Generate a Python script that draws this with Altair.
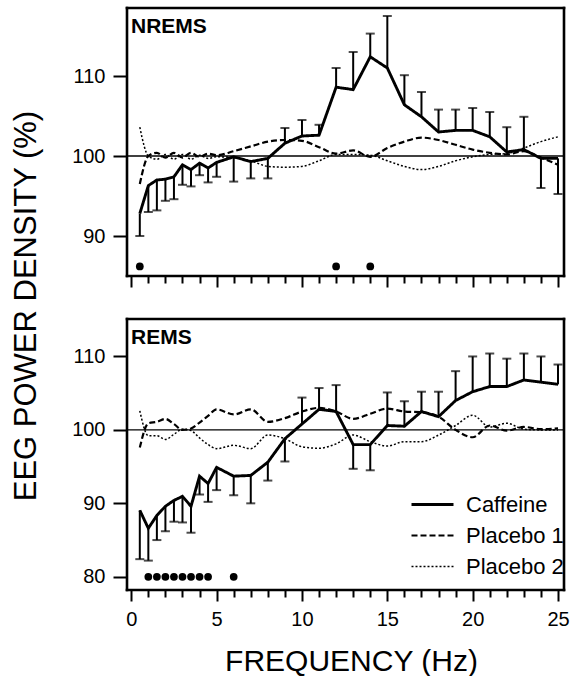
import altair as alt
import pandas as pd

FONT = "Liberation Sans"

# Frequency bins (Hz): 0.5-Hz bins up to 5 Hz, 1-Hz bins above
freq = [0.5, 1.0, 1.5, 2.0, 2.5, 3.0, 3.5, 4.0, 4.5, 5.0,
        6, 7, 8, 9, 10, 11, 12, 13, 14, 15, 16, 17, 18, 19, 20, 21, 22, 23, 24, 25]

# ---- NREMS ----
nrem_caf = [92.8, 96.3, 97.0, 97.1, 97.4, 98.9, 98.3, 99.1, 98.5, 99.2,
            99.9, 99.3, 99.7, 101.6, 102.5, 102.6, 108.6, 108.3, 112.4, 111.0,
            106.4, 104.9, 103.0, 103.2, 103.2, 102.4, 100.5, 100.8, 99.7, 99.7]
nrem_err = [90.0, 93.0, 93.2, 94.4, 94.6, 96.4, 96.2, 97.6, 96.7, 97.4,
            96.8, 97.2, 97.2, 103.5, 104.5, 103.9, 111.0, 113.0, 115.3, 117.5,
            110.1, 108.0, 105.8, 105.8, 106.0, 105.5, 103.6, 104.9, 96.0, 95.25]
nrem_p1 = [96.5, 100.0, 100.4, 99.8, 100.4, 99.8, 100.4, 99.9, 100.3, 100.1,
           100.6, 101.2, 101.8, 102.0, 101.9, 101.1, 100.3, 100.7, 99.9, 101.0,
           101.8, 102.3, 102.0, 101.4, 100.8, 100.4, 100.2, 100.6, 99.8, 98.9]
nrem_p2 = [103.6, 100.0, 99.6, 100.2, 99.6, 100.2, 99.6, 100.1, 99.7, 99.9,
           99.8, 99.4, 98.7, 98.6, 98.7, 99.4, 100.2, 100.2, 100.1, 99.4,
           98.7, 98.3, 98.7, 99.4, 99.9, 100.2, 100.3, 101.0, 101.8, 102.4]
nrem_sig_freq = [0.5, 12, 14]
nrem_sig_level = [86.2, 86.2, 86.2]

# ---- REMS ----
rem_caf = [89.05, 86.6, 88.35, 89.6, 90.4, 90.95, 89.6, 93.7, 92.7, 94.9,
           93.7, 93.8, 95.6, 98.8, 100.8, 102.8, 102.5, 98.0, 98.0, 100.6,
           100.5, 102.5, 101.8, 104.0, 105.2, 105.9, 105.9, 106.8, 106.5, 106.2]
rem_err = [82.4, 82.2, 85.0, 86.2, 87.5, 87.4, 86.0, 91.2, 90.2, 91.8,
           91.1, 90.0, 93.1, 95.7, 104.4, 105.7, 106.1, 94.7, 94.5, 105.1,
           103.9, 105.2, 105.2, 108.0, 110.0, 110.4, 109.7, 110.4, 110.0, 108.9]
rem_p1 = [97.6, 100.9, 101.1, 101.5, 100.8, 100.0, 100.2, 101.0, 101.9, 102.8,
          102.1, 102.8, 101.1, 101.6, 102.5, 103.0, 102.5, 101.5, 102.2, 102.9,
          102.5, 102.4, 101.8, 100.0, 99.0, 100.6, 99.9, 100.4, 100.1, 100.2]
rem_p2 = [102.6, 99.2, 99.2, 98.7, 99.4, 100.1, 99.9, 98.9, 98.0, 97.45,
          97.9, 97.45, 99.3, 98.8, 97.7, 97.5, 98.1, 99.3, 98.4, 97.8,
          98.4, 98.4, 99.3, 100.6, 102.0, 100.4, 100.9, 100.1, 100.0, 100.0]
rem_sig_freq = [1.0, 1.5, 2.0, 2.5, 3.0, 3.5, 4.0, 4.5, 6]
rem_sig_level = [80, 80, 80, 80, 80, 80, 80, 80, 80]

series_names = ["Caffeine", "Placebo 1", "Placebo 2"]
x_ticks = list(range(0, 26))

XDOM = [-0.25, 25.35]
W = 437


def panel(caf, err, p1, p2, sig_f, sig_v, ydom, yticks, label, height,
          bottom, ext):
    df_c = pd.DataFrame({"freq": freq, "val": caf, "err": err,
                         "series": ["Caffeine"] * len(freq)})
    df_p = pd.DataFrame({
        "freq": freq + freq,
        "val": p1 + p2,
        "series": ["Placebo 1"] * len(freq) + ["Placebo 2"] * len(freq),
    })
    df_s = pd.DataFrame({"freq": sig_f, "val": sig_v})
    df_l = pd.DataFrame({"label": [label]})

    x_axis = alt.Axis(
        values=x_ticks, title="FREQUENCY (Hz)" if bottom else None,
        labels=bottom,
        labelExpr="datum.value % 5 === 0 ? datum.label : ''",
        tickSize={"condition": {"test": "datum.value % 5 === 0", "value": 11}, "value": 7},
        tickWidth=2, tickColor="black", domain=False, grid=False,
        labelFontSize=20, labelFont=FONT, labelColor="black", labelPadding=8,
        titleFontSize=30, titleFont=FONT, titleColor="black",
        titleFontWeight="normal", titlePadding=17, titleX=224,
        titleAlign="center",
    )
    y_axis = alt.Axis(
        values=yticks, title=None, tickSize=14, tickWidth=2, tickColor="black",
        domain=False, grid=False, labelFontSize=20, labelFont=FONT,
        labelColor="black", labelPadding=8, minExtent=ext, maxExtent=ext,
    )
    X = alt.X("freq:Q", scale=alt.Scale(domain=XDOM, nice=False, zero=False),
              axis=x_axis)
    Y = alt.Y("val:Q", scale=alt.Scale(domain=ydom, nice=False, zero=False),
              axis=y_axis)

    dash_scale = alt.Scale(domain=series_names, range=[[1, 0], [6, 3], [2, 2]])
    width_scale = alt.Scale(domain=series_names, range=[2.9, 1.5, 1.5])
    if bottom:
        leg = alt.Legend(
            title=None, orient="none", legendX=283, legendY=170,
            symbolType="stroke", symbolSize=1764, symbolStrokeColor="black",
            labelFontSize=22, labelFont=FONT, labelColor="black",
            labelOffset=11, rowPadding=0, clipHeight=31,
        )
    else:
        leg = None

    dash_enc = alt.StrokeDash("series:N", scale=dash_scale, legend=leg)
    width_enc = alt.StrokeWidth("series:N", scale=width_scale, legend=leg)

    ref = alt.Chart(df_l).mark_rule(color="black", strokeWidth=1.4).encode(
        y=alt.datum(100))
    plac = alt.Chart(df_p).mark_line(color="black", interpolate="monotone").encode(
        x=X, y=Y, strokeDash=dash_enc, strokeWidth=width_enc, detail="series:N")
    bars = alt.Chart(df_c).mark_rule(color="black", strokeWidth=2).encode(
        x=X, y=Y, y2="err:Q")
    caps = alt.Chart(df_c).mark_tick(color="black", orient="horizontal",
                                     size=9, thickness=2).encode(
        x=X, y=alt.Y("err:Q"))
    cafl = alt.Chart(df_c).mark_line(color="black", strokeJoin="miter").encode(
        x=X, y=Y, strokeDash=dash_enc, strokeWidth=width_enc)
    dots = alt.Chart(df_s).mark_circle(color="black", size=60, opacity=1).encode(
        x=X, y=Y)
    txt = alt.Chart(df_l).mark_text(
        align="left", baseline="top", font=FONT, fontSize=21, color="black",
        fontWeight="bold").encode(
        x=alt.value(4), y=alt.value(8), text="label:N")

    # plot frame drawn as four rules
    fr = alt.Chart(df_l).mark_rule(color="black", strokeWidth=2.6,
                                   strokeCap="square")
    f_top = fr.encode(y=alt.value(0), x=alt.value(0), x2=alt.value(W))
    f_bot = fr.encode(y=alt.value(height), x=alt.value(0), x2=alt.value(W))
    f_left = fr.encode(x=alt.value(0), y=alt.value(0), y2=alt.value(height))
    f_right = fr.encode(x=alt.value(W), y=alt.value(0), y2=alt.value(height))

    return alt.layer(ref, plac, bars, caps, cafl, dots, txt,
                     f_top, f_bot, f_left, f_right).properties(
        width=W, height=height)


top = panel(nrem_caf, nrem_err, nrem_p1, nrem_p2, nrem_sig_freq,
            nrem_sig_level, [85, 118.5], [90, 100, 110], "NREMS", 268,
            False, 53)
bot = panel(rem_caf, rem_err, rem_p1, rem_p2, rem_sig_freq, rem_sig_level,
            [78.2, 115.1], [80, 90, 100, 110], "REMS", 271, True, 56)

chart = alt.vconcat(top, bot, spacing=29).resolve_scale(
    strokeDash="independent", strokeWidth="independent"
).properties(
    title=alt.TitleParams("EEG POWER DENSITY (%)", orient="left",
                          anchor="middle", fontSize=31, font=FONT,
                          fontWeight="normal", color="black", offset=28,
                          dx=35),
    padding={"left": 10, "top": 6, "right": 6, "bottom": 0},
    background="white",
).configure_view(strokeWidth=0, strokeOpacity=0)

chart.save("out.html", embed_options={"renderer": "svg", "actions": False})
